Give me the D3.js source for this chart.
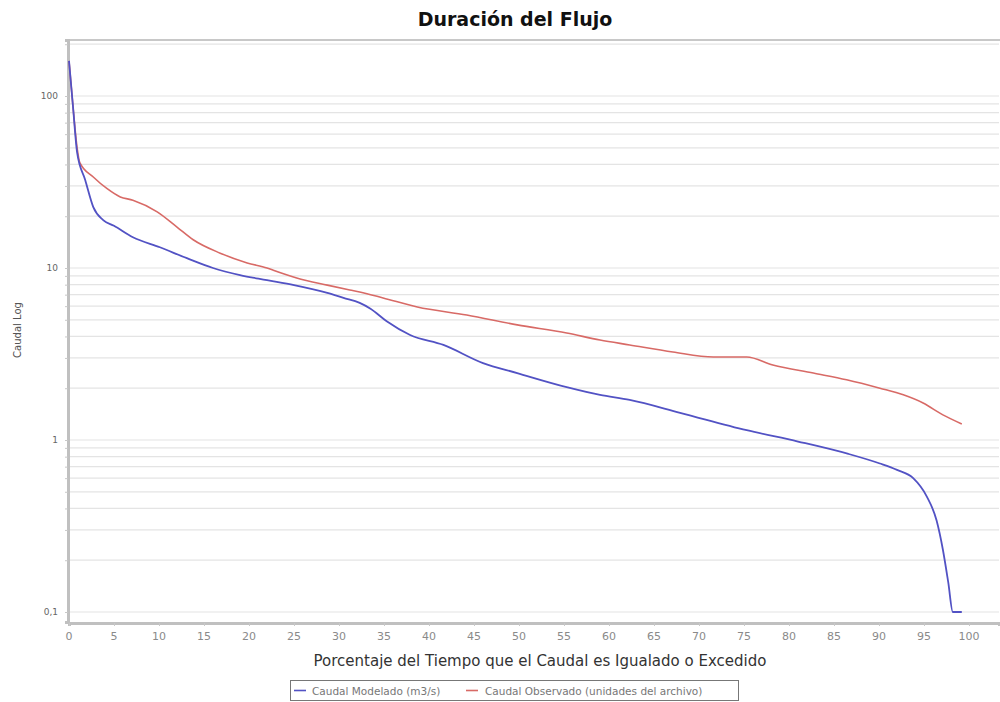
<!DOCTYPE html>
<html><head><meta charset="utf-8">
<script src="https://cdn.jsdelivr.net/npm/d3@7/dist/d3.min.js"></script>
<style>
html,body{margin:0;padding:0;background:#fff;}
svg{display:block;font-family:"DejaVu Sans",sans-serif;}
</style></head>
<body>
<svg id="chart" width="1000" height="702"></svg>
<script>
// ---- data ----
const title = "Duración del Flujo";
const xLabel = "Porcentaje del Tiempo que el Caudal es Igualado o Excedido";
const yLabel = "Caudal Log";
const seriesNames = ["Caudal Modelado (m3/s)", "Caudal Observado (unidades del archivo)"];
const xTicks = [0,5,10,15,20,25,30,35,40,45,50,55,60,65,70,75,80,85,90,95,100];
const yTickValues = [0.1, 1, 10, 100];
const yTickLabels = ["0,1", "1", "10", "100"];

const modeladoX = [0,0.45,0.9,1.8,2.7,3.8,5,7.1,10.1,13.1,16,19,22,25,28.7,30.5,32.3,33.5,35.3,37.9,41.6,46,49.8,55.3,59,62.3,67.9,75.3,81,86.6,90.1,92,93.8,95.3,96.4,97.1,97.7,98.2,99.2];
const modeladoY = [160,86,47,32.5,22.6,19.0,17.6,15.1,13.2,11.4,10.0,9.1,8.5,7.95,7.16,6.7,6.27,5.8,4.9,4.08,3.57,2.8,2.45,2.03,1.83,1.71,1.44,1.14,0.98,0.83,0.73,0.67,0.60,0.47,0.34,0.23,0.148,0.1,0.1];

const observadoX = [0,0.45,0.9,1.2,2.7,4.2,5.7,7.1,9.8,12,13.8,16.8,19.8,22,22.7,25.3,28.7,31.2,32.3,34.9,38.7,44.2,49.8,55.3,59,62.3,67.1,71.6,75.3,78.2,82.7,86.4,90.1,92.7,94.9,97.1,99.2];
const observadoY = [160,86,50,41,33.8,29,25.9,24.8,21.2,17.3,14.6,12.2,10.7,10.0,9.7,8.75,7.95,7.45,7.25,6.7,5.93,5.33,4.67,4.19,3.81,3.57,3.25,3.04,3.04,2.73,2.45,2.24,2.0,1.83,1.64,1.40,1.24];

const colors = ["#5252c4", "#d86a66"];

// ---- layout ----
const svg = d3.select("#chart");
const L = 69, R = 999, T = 40, B = 622;
const x = d3.scaleLinear().domain([0, (R - L) / 9]).range([L, R]);
const y = d3.scaleLog().domain([Math.pow(10, -182/172), Math.pow(10, 400/172)]).range([B, T]);

// gridlines (minor log)
const gridVals = [];
[0.1, 1, 10, 100].forEach(d => { for (let k = 1; k <= 9; k++) { const v = d * k; if (v >= y.domain()[0] && v <= y.domain()[1]) gridVals.push(v); } });
svg.append("g").selectAll("line").data(gridVals).join("line")
  .attr("x1", L).attr("x2", R)
  .attr("y1", d => y(d)).attr("y2", d => y(d))
  .attr("stroke", "#e4e4e4").attr("stroke-width", 1.2);

// plot border top
svg.append("line").attr("x1", L).attr("x2", 1000).attr("y1", T).attr("y2", T)
  .attr("stroke", "#c8c8c8").attr("stroke-width", 2);

// y axis
const yAxisG = svg.append("g").attr("transform", `translate(${L - 1},0)`)
  .call(d3.axisLeft(y).tickValues(gridVals).tickSize(3).tickFormat(""));
yAxisG.select(".domain").attr("stroke", "#c0c0c0").attr("stroke-width", 3);
yAxisG.selectAll(".tick line").attr("stroke", "#c8c8c8");
svg.append("g").selectAll("text").data(yTickValues).join("text")
  .attr("x", 58).attr("y", d => y(d)).attr("dy", "0.35em")
  .attr("text-anchor", "end").attr("font-size", 9).attr("fill", "#666")
  .text((d, i) => yTickLabels[i]);

// x axis
const xAxisG = svg.append("g").attr("transform", `translate(0,${B + 1})`)
  .call(d3.axisBottom(x).tickValues(xTicks).tickSize(3).tickFormat(""));
xAxisG.select(".domain").attr("stroke", "#c0c0c0").attr("stroke-width", 3);
xAxisG.selectAll(".tick line").attr("stroke", "#c8c8c8");
svg.append("g").selectAll("text").data(xTicks).join("text")
  .attr("x", d => x(d)).attr("y", 640)
  .attr("text-anchor", "middle").attr("font-size", 11).attr("fill", "#8a8a8a")
  .text(d => d);

// lines
const line = d3.line().x(d => x(d[0])).y(d => y(d[1])).curve(d3.curveMonotoneX);
const mod = modeladoX.map((v, i) => [v, modeladoY[i]]);
const obs = observadoX.map((v, i) => [v, observadoY[i]]);
svg.append("path").datum(obs).attr("d", line).attr("fill", "none")
  .attr("stroke", colors[1]).attr("stroke-width", 1.6);
svg.append("path").datum(mod).attr("d", line).attr("fill", "none")
  .attr("stroke", colors[0]).attr("stroke-width", 1.8);

// title
svg.append("text").attr("x", 515).attr("y", 26).attr("text-anchor", "middle")
  .attr("font-size", 19).attr("font-weight", "bold").attr("fill", "#111").text(title);

// axis labels
svg.append("text").attr("x", 540).attr("y", 666).attr("text-anchor", "middle")
  .attr("font-size", 15).attr("fill", "#333").text(xLabel);
svg.append("text").attr("transform", "translate(21,330) rotate(-90)")
  .attr("text-anchor", "middle").attr("font-size", 10).attr("fill", "#555").text(yLabel);

// legend
const lg = svg.append("g");
lg.append("rect").attr("x", 290.5).attr("y", 680.5).attr("width", 448).attr("height", 20)
  .attr("fill", "#fff").attr("stroke", "#777").attr("stroke-width", 1);
const legendItems = [{x: 294, tx: 312}, {x: 466, tx: 485}];
legendItems.forEach((it, i) => {
  lg.append("line").attr("x1", it.x).attr("x2", it.x + 12).attr("y1", 690.5).attr("y2", 690.5)
    .attr("stroke", colors[i]).attr("stroke-width", 1.6);
  lg.append("text").attr("x", it.tx).attr("y", 694.5).attr("font-size", 10.5).attr("fill", "#777")
    .text(seriesNames[i]);
});
</script>
</body></html>
